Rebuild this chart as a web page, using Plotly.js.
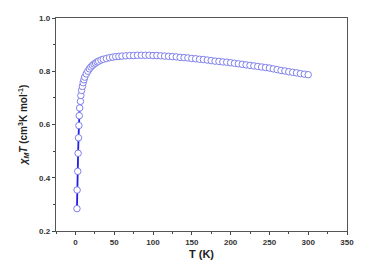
<!DOCTYPE html>
<html><head><meta charset="utf-8">
<script src="https://cdn.plot.ly/plotly-3.0.1.min.js"></script>
<style>html,body{margin:0;padding:0;background:#fff}#c{width:373px;height:267px}</style>
</head><body><div id="c"></div>
<script>
const temperature = [2,2.2,3,3.5,4,4.5,5,5.5,6.5,7,8,9,10,11,12,14,16,18,20,22,24,26,28,30,33,36,40,44,48,52,56,60,65,70,75,80,85,90,95,100,105,110,115,120,125,130,135,140,145,150,155,160,165,170,175,180,185,190,195,200,205,210,215,220,225,230,235,240,245,250,255,260,265,270,275,280,285,290,295,300];
const chiMT = [0.284,0.354,0.424,0.492,0.550,0.596,0.633,0.662,0.687,0.709,0.728,0.743,0.757,0.768,0.778,0.790,0.800,0.809,0.816,0.822,0.827,0.831,0.835,0.838,0.842,0.845,0.848,0.851,0.853,0.855,0.856,0.857,0.858,0.859,0.859,0.860,0.860,0.860,0.860,0.859,0.859,0.858,0.857,0.856,0.855,0.854,0.852,0.851,0.850,0.848,0.847,0.845,0.844,0.842,0.840,0.838,0.837,0.835,0.834,0.832,0.830,0.828,0.826,0.824,0.822,0.820,0.818,0.816,0.814,0.812,0.809,0.806,0.803,0.801,0.798,0.796,0.794,0.791,0.789,0.787];
const xTicks = [0,50,100,150,200,250,300,350];
const yTicks = [0.2,0.4,0.6,0.8,1.0];

const trace = {
  x: temperature, y: chiMT, type: 'scatter', mode: 'lines+markers',
  line: {color: '#1f1fe6', width: 1.8},
  marker: {symbol: 'circle', size: 6.5, color: '#ffffff', line: {width: 0.9, color: '#7373ea'}},
  hoverinfo: 'skip'
};
const tf = {family: 'Liberation Sans, Arial, sans-serif', size: 8, color: '#333', weight: 'bold'};
const layout = {
  width: 373, height: 267,
  margin: {l: 56, r: 26, t: 18, b: 36},
  paper_bgcolor: '#fff', plot_bgcolor: '#fff',
  showlegend: false,
  font: {family: 'Liberation Sans, Arial, sans-serif'},
  xaxis: {
    range: [-25, 350], tickvals: xTicks, ticktext: xTicks.map(String),
    ticks: 'outside', ticklen: 3, tickwidth: 1, tickcolor: '#444',
    minor: {dtick: 25, tick0: 0, ticks: 'outside', ticklen: 2, tickcolor: '#444', tickwidth: 1},
    showline: true, mirror: true, linecolor: '#555', linewidth: 1.3,
    showgrid: false, zeroline: false,
    tickfont: tf,
    title: {text: '<b>T (K)</b>', font: {family: 'Liberation Sans, Arial, sans-serif', size: 11, color: '#222'}, standoff: 4}
  },
  yaxis: {
    range: [0.2, 1.0], tickvals: yTicks, ticktext: yTicks.map(v => v.toFixed(1)),
    ticks: 'outside', ticklen: 3, tickwidth: 1, tickcolor: '#444',
    minor: {dtick: 0.1, tick0: 0.2, ticks: 'outside', ticklen: 2, tickcolor: '#444', tickwidth: 1},
    showline: true, mirror: true, linecolor: '#555', linewidth: 1.3,
    showgrid: false, zeroline: false,
    tickfont: tf,
    title: {text: '<b><i>χ</i><sub><i>M</i></sub><i>T</i> (cm<sup>3</sup>K mol<sup>-1</sup>)</b>', font: {family: 'Liberation Sans, Arial, sans-serif', size: 10, color: '#222'}, standoff: 9}
  }
};
Plotly.newPlot('c', [trace], layout, {displayModeBar: false, staticPlot: true});
</script></body></html>
